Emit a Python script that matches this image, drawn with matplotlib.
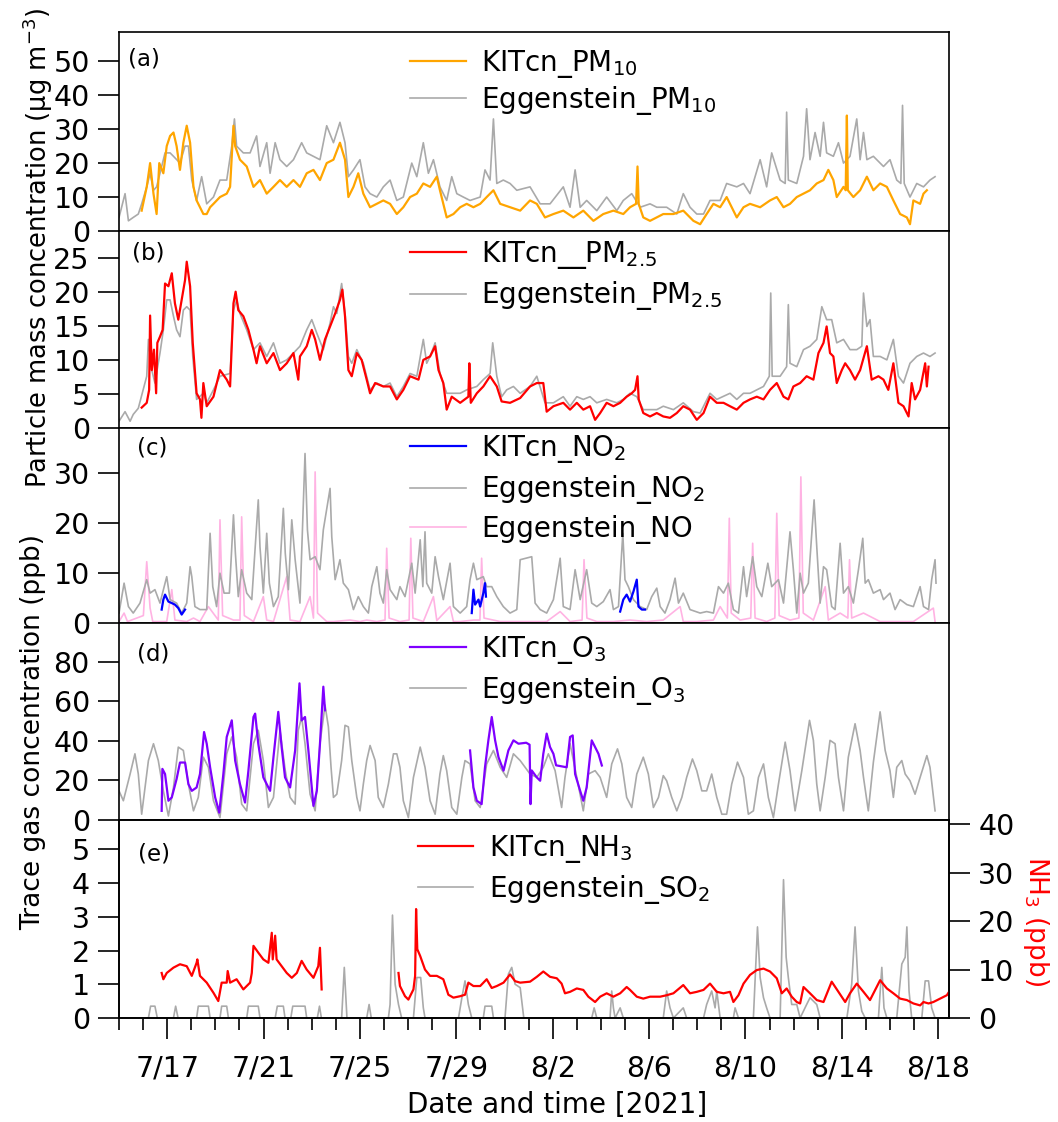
import numpy as np
import pandas as pd
import matplotlib
matplotlib.use("Agg")
import matplotlib.pyplot as plt
import matplotlib.dates as mdates

plt.rcParams["font.family"] = ["DejaVu Sans"]

# all series: (days since 2021-07-15 00:00, value)
START = pd.Timestamp("2021-07-15")
END_DAYS = 34.45

major_days = pd.date_range("2021-07-17", "2021-08-18", freq="4D")
major_labels = ["7/17", "7/21", "7/25", "7/29", "8/2", "8/6", "8/10", "8/14", "8/18"]

# (a) PM10, ug m-3
pm10_kit = [
    (0.94, 6), (1.15, 13), (1.29, 20), (1.43, 11), (1.56, 5), (1.67, 20), (1.84, 17), (1.98, 25), (2.12, 28), (2.26, 29),
    (2.39, 25), (2.53, 18), (2.67, 26), (2.81, 31), (2.95, 26), (3.09, 13), (3.22, 9), (3.36, 7), (3.50, 5), (3.64, 5),
    (3.78, 7), (3.92, 8), (4.19, 10), (4.47, 11), (4.61, 13), (4.75, 31), (4.82, 25), (5.02, 21), (5.30, 19), (5.58, 13),
    (5.85, 15), (6.13, 11), (6.41, 13), (6.68, 15), (6.96, 13), (7.24, 15), (7.51, 13), (7.79, 17), (8.07, 18), (8.34, 15),
    (8.62, 20), (8.90, 21), (9.17, 26), (9.38, 21), (9.52, 10), (9.73, 13), (9.93, 17), (10.14, 11), (10.42, 7), (10.70, 8),
    (10.97, 9), (11.25, 8), (11.53, 5), (11.80, 7), (12.08, 10), (12.36, 11), (12.63, 14), (12.91, 13), (13.19, 16), (13.32, 12),
    (13.60, 4), (13.88, 5), (14.16, 7), (14.43, 8), (14.71, 7), (14.99, 8), (15.26, 10), (15.54, 12), (15.82, 8), (16.23, 7),
    (16.65, 6), (17.06, 9), (17.34, 8), (17.68, 4), (18.03, 5), (18.44, 6), (18.86, 4), (19.27, 6), (19.69, 3), (20.10, 5),
    (20.52, 6), (20.93, 5), (21.21, 7), (21.46, 8), (21.52, 19), (21.57, 8), (21.76, 4), (22.04, 3), (22.32, 4), (22.59, 5),
    (23.01, 5), (23.42, 6), (23.84, 3), (24.12, 2), (24.39, 5), (24.67, 8), (24.95, 7), (25.22, 10), (25.64, 4), (25.92, 7),
    (26.19, 8), (26.61, 7), (27.02, 9), (27.30, 10), (27.58, 7), (27.85, 8), (28.13, 10), (28.41, 11), (28.68, 12), (28.96, 14),
    (29.24, 15), (29.44, 18), (29.65, 15), (29.79, 10), (30.07, 13), (30.16, 12), (30.21, 34), (30.25, 12), (30.48, 10), (30.76, 12),
    (31.04, 16), (31.31, 12), (31.59, 14), (31.87, 13), (32.14, 9), (32.42, 5), (32.70, 4), (32.83, 2), (32.97, 9), (33.25, 8),
    (33.39, 11), (33.53, 12)]
pm10_egg = [
    (0.00, 4), (0.25, 11), (0.39, 3), (0.59, 4), (0.80, 5), (0.94, 8), (1.15, 13), (1.29, 17), (1.43, 12), (1.56, 13),
    (1.70, 17), (1.91, 23), (2.12, 23), (2.26, 22), (2.53, 20), (2.74, 25), (2.88, 25), (3.02, 15), (3.22, 9), (3.43, 16),
    (3.64, 8), (3.92, 10), (4.19, 15), (4.47, 15), (4.68, 25), (4.79, 33), (4.88, 25), (5.16, 23), (5.44, 23), (5.71, 28),
    (5.85, 19), (6.13, 26), (6.27, 17), (6.48, 26), (6.68, 21), (6.96, 19), (7.24, 21), (7.58, 26), (7.79, 23), (8.07, 22),
    (8.34, 21), (8.62, 31), (8.90, 26), (9.17, 32), (9.38, 26), (9.52, 16), (9.73, 18), (10.00, 21), (10.21, 13), (10.42, 11),
    (10.70, 10), (10.97, 13), (11.25, 15), (11.53, 9), (11.80, 10), (12.15, 20), (12.36, 16), (12.63, 26), (12.84, 17), (13.05, 21),
    (13.32, 13), (13.60, 9), (13.81, 16), (14.02, 11), (14.29, 10), (14.57, 9), (14.99, 10), (15.19, 18), (15.40, 15), (15.54, 33),
    (15.68, 14), (15.95, 15), (16.23, 14), (16.51, 12), (17.06, 13), (17.48, 8), (17.89, 8), (18.44, 13), (18.72, 7), (18.93, 18),
    (19.14, 7), (19.41, 9), (19.83, 6), (20.24, 10), (20.66, 6), (20.93, 9), (21.28, 11), (21.63, 7), (22.04, 8), (22.32, 7),
    (22.73, 7), (23.15, 5), (23.42, 11), (23.70, 7), (23.98, 5), (24.26, 5), (24.53, 9), (24.95, 9), (25.22, 14), (25.64, 13),
    (25.92, 14), (26.19, 11), (26.61, 21), (26.88, 13), (27.09, 23), (27.44, 15), (27.65, 14), (27.71, 35), (27.78, 15), (28.13, 14),
    (28.41, 22), (28.54, 36), (28.68, 21), (28.89, 29), (29.10, 22), (29.24, 32), (29.37, 23), (29.65, 22), (29.86, 26), (30.07, 20),
    (30.34, 22), (30.62, 33), (30.76, 21), (30.90, 29), (31.04, 21), (31.31, 22), (31.73, 19), (32.00, 21), (32.28, 15), (32.45, 14),
    (32.52, 37), (32.59, 14), (32.83, 10), (33.11, 14), (33.39, 13), (33.66, 15), (33.87, 16)]

# (b) PM2.5, ug m-3
pm25_kit = [
    (0.94, 3), (1.15, 3.7), (1.25, 5.6), (1.29, 16.5), (1.36, 8.5), (1.45, 11.5), (1.54, 5.1), (1.59, 12.5), (1.70, 13.4), (1.81, 14.4),
    (1.91, 21.2), (2.05, 20.8), (2.19, 22.7), (2.32, 18.3), (2.46, 15.9), (2.60, 18.8), (2.74, 21.7), (2.81, 24.4), (2.95, 20.8), (3.06, 12.5),
    (3.22, 5.1), (3.36, 4.2), (3.42, 1.5), (3.50, 6.6), (3.64, 3.2), (3.92, 4.6), (4.19, 8.5), (4.47, 7.1), (4.61, 6.1), (4.75, 18.3),
    (4.84, 20.0), (4.95, 17.3), (5.16, 16.4), (5.37, 14.4), (5.58, 11.5), (5.71, 9.5), (5.85, 12), (6.13, 9.5), (6.41, 11), (6.68, 8.5),
    (6.96, 9.5), (7.24, 11), (7.44, 7.1), (7.51, 10.5), (7.79, 12), (8.00, 14.4), (8.14, 13), (8.34, 10), (8.55, 13), (8.76, 14.9),
    (8.97, 16.8), (9.17, 18.8), (9.27, 20.3), (9.38, 16.4), (9.52, 8.5), (9.66, 7.6), (9.87, 11), (10.07, 10), (10.28, 7.1), (10.42, 5.1),
    (10.63, 6.6), (10.97, 6.1), (11.25, 6.1), (11.53, 4.2), (11.80, 5.6), (12.08, 7.6), (12.43, 7.1), (12.63, 10), (12.91, 10.5), (13.12, 12),
    (13.26, 8.5), (13.46, 6.6), (13.60, 2.7), (13.81, 4.6), (14.16, 3.7), (14.50, 4.6), (14.54, 9.5), (14.60, 3.7), (14.85, 5.1), (15.12, 6.1),
    (15.40, 7.6), (15.68, 6.1), (15.88, 3.9), (16.23, 3.7), (16.65, 4.4), (17.06, 6.1), (17.34, 6.6), (17.61, 6.6), (17.75, 2.4), (18.03, 3.2),
    (18.44, 3.7), (18.72, 2.7), (19.00, 3.7), (19.27, 2.7), (19.55, 3.2), (19.76, 1.2), (19.97, 2.2), (20.24, 3.7), (20.52, 3.2), (20.80, 3.7),
    (21.07, 4.6), (21.28, 5.1), (21.42, 5.6), (21.52, 7.6), (21.57, 4.2), (21.76, 2.2), (22.04, 1.7), (22.32, 2.2), (22.59, 1.7), (22.87, 1.5),
    (23.15, 2.2), (23.42, 3.2), (23.70, 2.7), (23.98, 1.2), (24.26, 2.2), (24.53, 4.6), (24.81, 3.7), (25.09, 3.7), (25.36, 3.2), (25.64, 2.7),
    (25.92, 3.7), (26.19, 4.2), (26.47, 4.6), (26.75, 4.2), (27.02, 5.6), (27.30, 6.6), (27.58, 4.6), (27.78, 4.2), (27.99, 6.1), (28.27, 6.6),
    (28.54, 7.6), (28.82, 7.1), (29.03, 11), (29.24, 12.5), (29.37, 14.9), (29.51, 11), (29.65, 10.5), (29.79, 6.6), (30.00, 8.5), (30.14, 9.5),
    (30.34, 8.5), (30.55, 7.1), (30.76, 8.5), (31.04, 12), (31.24, 7.1), (31.52, 7.6), (31.73, 7.1), (31.93, 5.6), (32.14, 9.5), (32.35, 3.7),
    (32.56, 3.2), (32.77, 1.7), (32.90, 6.6), (33.04, 4.2), (33.25, 5.6), (33.46, 9.5), (33.53, 6.1), (33.60, 9)]
pm25_egg = [
    (0.00, 1.0), (0.25, 2.4), (0.46, 1.0), (0.59, 2.0), (0.80, 2.9), (1.15, 7.6), (1.22, 13), (1.36, 8.5), (1.49, 6.6), (1.70, 11),
    (1.84, 14.4), (1.98, 18.8), (2.12, 18.8), (2.26, 16.4), (2.39, 14.4), (2.53, 13.4), (2.67, 17.3), (2.81, 17.8), (2.95, 17.3), (3.06, 10.5),
    (3.22, 4.2), (3.50, 5.1), (3.64, 3.7), (3.92, 5.6), (4.19, 7.6), (4.61, 8), (4.75, 17.3), (4.88, 18.8), (5.02, 16.8), (5.30, 14.4),
    (5.58, 11.5), (5.85, 12.5), (6.13, 10.5), (6.41, 12.5), (6.68, 9.5), (6.96, 10), (7.24, 11), (7.51, 12), (7.79, 14.4), (8.00, 15.9),
    (8.21, 13.9), (8.48, 11.5), (8.76, 15.4), (8.90, 17.8), (9.04, 16.8), (9.24, 21.2), (9.38, 16.8), (9.52, 10.5), (9.66, 9.5), (9.87, 11.5),
    (10.14, 9.5), (10.42, 5.6), (10.70, 6.6), (10.97, 6.1), (11.25, 6.6), (11.53, 4.6), (11.80, 6.1), (12.08, 8), (12.36, 7.6), (12.63, 13),
    (12.77, 9.5), (12.91, 10.5), (13.12, 12.5), (13.32, 8), (13.60, 5.1), (13.88, 5.1), (14.16, 5.1), (14.43, 5.6), (14.85, 6.1), (15.12, 7.1),
    (15.40, 8), (15.51, 12.5), (15.68, 7.6), (15.88, 4.6), (16.09, 5.6), (16.37, 6.1), (16.65, 5.1), (17.06, 6.1), (17.34, 7.6), (17.68, 3.7),
    (18.03, 3.7), (18.44, 4.6), (18.72, 3.2), (19.00, 4.6), (19.27, 4.2), (19.55, 4.6), (19.83, 3.7), (20.24, 4.2), (20.66, 3.7), (20.93, 4.2),
    (21.21, 5.1), (21.49, 4.6), (21.76, 2.7), (22.04, 2.7), (22.32, 2.7), (22.59, 3.2), (23.01, 2.7), (23.42, 3.7), (23.84, 2.4), (24.12, 2.2),
    (24.53, 5.1), (24.81, 4.2), (25.36, 5.1), (25.64, 4.2), (25.92, 5.1), (26.19, 5.1), (26.47, 5.6), (26.75, 6.1), (26.99, 7.6), (27.05, 19.8),
    (27.11, 7.6), (27.44, 7.6), (27.71, 9), (27.78, 18.1), (27.85, 9.5), (28.13, 9), (28.41, 11.5), (28.68, 12), (28.96, 13), (29.17, 17.8),
    (29.37, 15.9), (29.58, 15.9), (29.79, 12.5), (30.07, 13), (30.34, 11.5), (30.62, 11.5), (30.83, 12), (30.90, 19.8), (31.04, 14.9), (31.17, 15.9),
    (31.31, 10.5), (31.59, 10.5), (31.87, 10), (32.14, 13), (32.35, 7.6), (32.56, 6.6), (32.83, 9.5), (33.11, 10.5), (33.39, 11), (33.66, 10.5),
    (33.87, 11)]

# (c) NO2 / NO, ppb
no2_kit = [
    (1.77, 2.7), (1.84, 4.7), (1.91, 5.7), (2.05, 4.3), (2.19, 4), (2.32, 3.7), (2.46, 3), (2.60, 1.7), (2.74, 2.7), (8.0, np.nan),
    (14.64, 2), (14.71, 6.7), (14.78, 3.7), (14.92, 4.7), (14.99, 3.3), (15.12, 6), (15.19, 8), (15.23, 5.3), (18.0, np.nan),
    (20.80, 2.3), (20.93, 4.7), (21.07, 5.7), (21.21, 4.3), (21.35, 6.3), (21.49, 8.7), (21.56, 3.3), (21.70, 2.7), (21.83, 2.7)]
no2_egg = [
    (0.00, 2), (0.21, 8), (0.39, 3.3), (0.59, 2), (0.87, 4), (1.15, 8.7), (1.29, 6), (1.49, 6.7), (1.70, 4), (1.98, 9.3),
    (2.12, 4.7), (2.39, 4), (2.60, 2), (2.81, 4), (2.95, 11.3), (3.02, 9.3), (3.15, 3.3), (3.36, 2.7), (3.64, 2.7), (3.78, 18),
    (3.89, 7.3), (4.05, 3.3), (4.19, 10), (4.36, 6), (4.58, 6), (4.75, 21.7), (4.83, 14), (4.95, 5.3), (5.09, 10.7), (5.30, 6),
    (5.51, 4.7), (5.78, 24.7), (5.85, 15.3), (5.99, 6), (6.13, 18), (6.24, 8), (6.41, 3.3), (6.61, 5.3), (6.82, 23), (6.90, 14),
    (7.03, 6.7), (7.17, 20.7), (7.31, 12.7), (7.51, 4), (7.72, 34), (7.82, 18.7), (7.93, 12.7), (8.14, 13.3), (8.34, 10.7), (8.48, 18.7),
    (8.76, 27), (8.83, 17.3), (8.97, 8.7), (9.17, 12.7), (9.31, 8), (9.52, 6.7), (9.73, 2.7), (9.93, 5.3), (10.14, 3.3), (10.35, 2),
    (10.49, 7.3), (10.70, 11.3), (10.83, 6), (10.97, 4), (11.11, 10.7), (11.25, 6.7), (11.53, 4.7), (11.66, 7.3), (11.87, 5.3), (12.01, 8.7),
    (12.15, 12), (12.29, 6), (12.50, 16.7), (12.61, 7.3), (12.70, 18.3), (12.77, 8), (12.98, 6), (13.12, 13.3), (13.26, 9.3), (13.46, 4.7),
    (13.74, 12), (13.88, 3.3), (14.16, 2), (14.43, 3.3), (14.57, 8.7), (14.71, 12), (14.85, 8.7), (15.12, 9.3), (15.26, 7.3), (15.47, 7.3),
    (15.68, 5.3), (15.95, 3.3), (16.23, 2), (16.51, 2.7), (16.65, 12.7), (17.13, 13.3), (17.27, 4), (17.48, 2.7), (17.75, 2), (18.03, 4.7),
    (18.31, 13), (18.44, 3.3), (18.72, 2.7), (18.93, 10.7), (19.14, 4.7), (19.41, 10.7), (19.62, 4), (19.83, 3.3), (20.10, 4.3), (20.38, 6.7),
    (20.52, 2.7), (20.73, 3.3), (20.91, 18), (21.00, 8.7), (21.14, 7.3), (21.35, 4.7), (21.63, 3.3), (21.90, 2.7), (22.11, 5.3), (22.32, 7),
    (22.46, 3.3), (22.66, 2), (22.87, 4.7), (23.08, 9), (23.22, 4), (23.42, 6), (23.70, 2.7), (24.12, 2), (24.39, 2.3), (24.67, 2),
    (24.88, 7.3), (25.09, 6), (25.29, 8), (25.50, 2.7), (25.71, 2), (25.92, 11.3), (26.05, 5.3), (26.30, 13.3), (26.47, 7.3), (26.68, 5.3),
    (26.93, 12), (27.09, 7.3), (27.37, 8.7), (27.58, 4), (27.85, 18.3), (27.99, 10.7), (28.13, 2), (28.27, 10), (28.41, 6), (28.61, 8),
    (28.85, 24.7), (28.96, 15.3), (29.10, 4), (29.24, 11.3), (29.37, 10.7), (29.58, 3.3), (29.72, 2.7), (29.93, 16), (30.07, 6), (30.27, 7.3),
    (30.48, 4), (30.69, 10.7), (30.87, 17), (30.97, 8), (31.10, 8.7), (31.31, 6), (31.59, 6.7), (31.73, 4.7), (32.00, 6), (32.21, 2.7),
    (32.42, 4.7), (32.70, 3.7), (32.97, 3.3), (33.25, 7.3), (33.39, 3.3), (33.60, 2.7), (33.73, 8.7), (33.87, 12.7), (33.91, 8)]
no_egg = [
    (0.00, 0.3), (0.21, 2), (0.35, 0.3), (1.01, 1.5), (1.15, 12.3), (1.29, 3), (1.40, 0.3), (1.98, 0.3), (2.19, 6.7), (2.32, 0.6),
    (2.81, 0.3), (3.09, 1.0), (3.36, 0.3), (3.71, 3.3), (4.12, 0.6), (4.19, 20.7), (4.30, 1.5), (4.75, 0.6), (5.02, 0.6), (5.09, 21.3),
    (5.20, 1.5), (5.58, 0.3), (5.99, 5.3), (6.13, 0.6), (6.41, 0.3), (6.96, 9.3), (7.10, 0.6), (7.51, 0.3), (7.93, 5.3), (8.07, 1.0),
    (8.14, 30.3), (8.24, 2), (8.62, 0.3), (8.90, 0.3), (9.59, 0.6), (10.00, 0.3), (10.28, 0.6), (10.70, 0.3), (11.04, 0.6), (11.11, 15),
    (11.21, 1.0), (11.66, 0.3), (12.04, 0.6), (12.11, 17), (12.20, 1.0), (12.63, 0.3), (13.05, 5.3), (13.19, 0.5), (13.74, 3.3), (13.88, 0.3),
    (14.16, 0.3), (14.71, 0.6), (14.98, 0.6), (15.05, 13), (15.15, 1.0), (15.82, 0.3), (16.37, 0.3), (17.06, 0.3), (17.75, 0.3), (18.31, 2.3),
    (18.72, 0.3), (19.22, 0.6), (19.30, 12.7), (19.42, 1.0), (19.83, 0.3), (20.52, 0.3), (21.21, 0.6), (21.90, 0.3), (22.59, 0.6), (23.29, 3.3),
    (23.42, 0.3), (23.98, 0.3), (24.67, 0.6), (24.95, 3.3), (25.25, 1.0), (25.33, 21), (25.41, 2), (25.78, 0.6), (26.22, 1.0), (26.30, 16),
    (26.40, 1.0), (26.88, 0.3), (27.22, 1.0), (27.30, 22), (27.40, 1.5), (27.85, 0.6), (28.22, 1.0), (28.30, 29.3), (28.40, 2), (28.82, 0.6),
    (29.31, 7.3), (29.44, 0.6), (29.93, 2), (30.25, 1.0), (30.32, 12.7), (30.41, 1.0), (30.90, 2), (31.59, 0.3), (32.28, 0.3), (32.97, 0.3),
    (33.80, 3), (33.87, 0.3)]

# (d) O3, ppb
o3_kit = [
    (1.77, 4.6), (1.80, 25.8), (1.91, 23.2), (2.05, 9.7), (2.19, 11.4), (2.39, 20.7), (2.53, 29), (2.74, 29), (2.88, 18.1), (3.02, 14.7),
    (3.22, 16.4), (3.36, 23.2), (3.53, 44.4), (3.64, 38.5), (3.78, 26.6), (3.99, 11.4), (4.16, 3.7), (4.33, 23.2), (4.47, 41.9), (4.68, 50.3),
    (4.82, 30), (5.02, 18.1), (5.23, 8.8), (5.37, 24.9), (5.58, 52), (5.65, 53.7), (5.78, 38.5), (5.99, 21.5), (6.13, 18.1), (6.27, 14.7),
    (6.41, 31.7), (6.61, 54.6), (6.75, 36.8), (6.89, 21.5), (7.10, 16.4), (7.31, 35.1), (7.49, 69), (7.58, 50.3), (7.72, 52), (7.86, 35.1),
    (8.07, 7.1), (8.21, 14.7), (8.34, 38.5), (8.48, 67.3), (8.55, 55.4), (11.0, np.nan),
    (14.57, 35.1), (14.71, 16.4), (14.85, 9.7), (15.05, 8), (15.19, 26.6), (15.33, 40.2), (15.47, 52), (15.61, 40.2), (15.75, 31.7), (15.96, 24.9),
    (16.16, 35.1), (16.37, 40.2), (16.58, 38.5), (16.90, 39), (17.04, 38), (17.08, 8), (17.13, 25), (17.34, 21.5), (17.48, 19.8), (17.61, 33.4),
    (17.75, 43.6), (17.89, 36.8), (18.03, 33.4), (18.14, 27.6), (18.58, 26.6), (18.72, 41.9), (18.83, 42.7), (18.93, 23.2), (19.14, 14.7), (19.27, 9.7),
    (19.41, 16.4), (19.62, 40.2), (19.76, 36.8), (19.90, 33.4), (20.04, 27.5)]
o3_egg = [
    (0.00, 14.7), (0.18, 9.7), (0.46, 23.2), (0.66, 33.4), (0.80, 23.2), (0.94, 2.9), (1.01, 9.7), (1.22, 30), (1.43, 38.5), (1.63, 30),
    (1.84, 14.7), (2.05, 2), (2.26, 16.4), (2.46, 36.8), (2.67, 35.1), (2.88, 18.1), (3.09, 4.6), (3.29, 11.4), (3.50, 31.7), (3.71, 26.6),
    (3.92, 9.7), (4.19, 1.2), (4.47, 33.4), (4.68, 41.9), (4.88, 31.7), (5.09, 8), (5.30, 4.6), (5.58, 38.5), (5.78, 45.3), (5.99, 30),
    (6.20, 6.3), (6.41, 11.4), (6.68, 45.3), (6.90, 25), (7.10, 11.4), (7.31, 8), (7.44, 45.3), (7.58, 52), (7.72, 38.5), (7.93, 13),
    (8.14, 4.6), (8.34, 38.5), (8.55, 58), (8.69, 47), (8.80, 26.6), (8.90, 11.4), (9.04, 13), (9.24, 30), (9.38, 47.8), (9.52, 47),
    (9.66, 30), (9.87, 11.4), (10.00, 4.6), (10.14, 18.1), (10.28, 30), (10.42, 37.6), (10.63, 30), (10.76, 11.4), (10.97, 6.3), (11.18, 18.1),
    (11.39, 33.4), (11.53, 33.4), (11.66, 26.6), (11.80, 9.7), (12.01, 1.2), (12.22, 21.5), (12.50, 36.8), (12.70, 26.6), (12.91, 9.7), (13.12, 2.9),
    (13.32, 23.2), (13.46, 32.5), (13.60, 24.9), (13.81, 6.3), (14.02, 2.9), (14.23, 21.5), (14.36, 30), (14.57, 28.3), (14.78, 9.7), (14.99, 6.3),
    (15.26, 28.3), (15.54, 35.1), (15.82, 26.6), (16.09, 21.5), (16.37, 33.4), (16.65, 30), (17.06, 23.2), (17.34, 21.5), (17.61, 26.6), (17.82, 33.4),
    (18.10, 24.9), (18.37, 6.3), (18.51, 21.5), (18.72, 38.5), (19.00, 21.5), (19.27, 4.6), (19.48, 23.2), (19.76, 24.9), (19.97, 21.5), (20.24, 11.4),
    (20.45, 28.3), (20.69, 35.9), (20.87, 28.3), (21.07, 11.4), (21.28, 6.3), (21.49, 23.2), (21.76, 31.7), (21.97, 23.2), (22.18, 6.3), (22.39, 11.4),
    (22.59, 22.4), (22.73, 19.8), (22.94, 11.4), (23.15, 4.6), (23.36, 11.4), (23.56, 21.5), (23.80, 30.8), (23.98, 24.9), (24.19, 14.7), (24.39, 14.7),
    (24.60, 23.2), (24.81, 11.4), (25.02, 2.9), (25.22, 2.9), (25.43, 18.1), (25.67, 29.2), (25.92, 21.5), (26.12, 2.9), (26.33, 4.6), (26.54, 21.5),
    (26.75, 28.3), (26.95, 11.4), (27.16, 1.2), (27.37, 18.1), (27.65, 39.3), (27.85, 24.9), (28.06, 4.6), (28.34, 24.9), (28.66, 50.3), (28.82, 40.2),
    (28.96, 18.1), (29.10, 4.6), (29.31, 21.5), (29.51, 40.2), (29.72, 38.5), (29.86, 21.5), (30.07, 4.6), (30.27, 31.7), (30.55, 48.6), (30.76, 35.1),
    (30.90, 21.5), (31.10, 4.6), (31.31, 29.2), (31.59, 54.6), (31.80, 35.1), (32.00, 24.9), (32.14, 11.4), (32.28, 26.6), (32.49, 30), (32.63, 23.2),
    (32.83, 19.8), (33.04, 13), (33.25, 21.5), (33.53, 32.5), (33.66, 26.6), (33.87, 4.6)]

# (e) NH3 (right axis, ppb) and SO2 (left axis, ppb)
nh3_kit = [
    (1.77, 9.3), (1.84, 8), (1.98, 9.3), (2.26, 10.4), (2.53, 11.1), (2.81, 10.7), (3.02, 8.7), (3.22, 11.4), (3.25, 12.1), (3.36, 8.7),
    (3.64, 7.3), (3.92, 5.2), (4.12, 3.5), (4.26, 7.3), (4.47, 7.3), (4.51, 9.7), (4.61, 7.3), (4.88, 8), (5.16, 5.9), (5.44, 7.3),
    (5.51, 9.3), (5.58, 14.9), (5.78, 13.5), (5.99, 12.1), (6.20, 11.4), (6.34, 17.6), (6.38, 12.1), (6.48, 17), (6.54, 12.1), (6.75, 10.7),
    (6.96, 9.3), (7.17, 8.3), (7.38, 9.3), (7.58, 11.8), (7.79, 10), (8.07, 8.3), (8.27, 10.7), (8.34, 14.5), (8.41, 5.9), (10.0, np.nan),
    (11.60, 9.3), (11.66, 6.6), (11.87, 4.5), (12.01, 3.8), (12.15, 5.2), (12.22, 5.9), (12.29, 8.7), (12.33, 22.5), (12.38, 14.2), (12.50, 12.8),
    (12.70, 10), (12.91, 8.7), (13.19, 8.7), (13.46, 8), (13.67, 4.8), (13.88, 4.2), (14.16, 4.5), (14.36, 4.8), (14.50, 7.3), (14.71, 6.6),
    (14.99, 6.6), (15.26, 8), (15.47, 6.2), (15.68, 6.6), (15.96, 7.3), (16.23, 9), (16.44, 7.6), (16.65, 7.3), (17.06, 7.5), (17.34, 8.5),
    (17.61, 9.6), (17.89, 8.5), (18.17, 8.2), (18.37, 7.1), (18.51, 5.1), (18.72, 5.4), (19.00, 6.1), (19.27, 5.8), (19.48, 4.4), (19.76, 3.3),
    (19.97, 4.4), (20.24, 5.1), (20.52, 4.4), (20.80, 5.1), (21.07, 6.4), (21.21, 5.8), (21.49, 4.4), (21.76, 4.0), (22.04, 4.4), (22.46, 4.4),
    (22.73, 4.7), (23.01, 5.1), (23.42, 6.8), (23.70, 5.1), (23.98, 5.4), (24.26, 5.8), (24.53, 7.1), (24.81, 5.4), (25.09, 5.1), (25.36, 5.4),
    (25.50, 3.3), (25.71, 4.7), (25.92, 7.1), (26.19, 8.9), (26.47, 9.9), (26.75, 10.2), (27.02, 9.6), (27.30, 8.2), (27.51, 5.1), (27.71, 6.1),
    (27.92, 4.4), (28.13, 3.3), (28.27, 3.0), (28.41, 6.4), (28.68, 5.1), (28.96, 3.7), (29.24, 3.3), (29.58, 7.5), (29.86, 5.4), (30.14, 3.3),
    (30.34, 5.1), (30.62, 7.1), (30.90, 5.4), (31.17, 3.7), (31.59, 7.8), (31.87, 6.1), (32.14, 5.1), (32.42, 4.0), (32.70, 3.7), (32.97, 3.0),
    (33.25, 2.6), (33.39, 3.3), (33.60, 3.0), (33.80, 3.3), (34.08, 4.0), (34.36, 4.7), (34.45, 5.4)]
so2_egg = [
    (0.00, 0), (1.22, 0), (1.31, 0.35), (1.49, 0.35), (1.59, 0), (2.26, 0), (2.35, 0.35), (2.45, 0), (3.22, 0), (3.29, 0.35),
    (3.71, 0.35), (3.78, 0), (4.19, 0), (4.26, 0.35), (4.47, 0.35), (4.54, 0), (5.30, 0), (5.37, 0.35), (5.78, 0.35), (5.85, 0),
    (6.48, 0), (6.57, 0.35), (6.82, 0.35), (6.89, 0), (7.13, 0), (7.21, 0.35), (7.72, 0.35), (7.79, 0), (8.23, 0), (8.32, 0.35),
    (8.40, 0), (9.24, 0), (9.35, 1.5), (9.46, 0), (10.28, 0), (10.38, 0.4), (10.47, 0), (11.18, 0), (11.25, 0.4), (11.35, 3.05),
    (11.46, 1.0), (11.60, 0.4), (11.73, 0), (12.22, 0), (12.36, 1.2), (12.52, 1.2), (12.63, 0.3), (12.70, 0), (14.09, 0), (14.23, 0.6),
    (14.36, 1.1), (14.50, 0.4), (14.64, 0), (15.12, 0), (15.19, 0.35), (15.47, 0.35), (15.54, 0), (16.02, 0), (16.16, 1.3), (16.30, 1.5),
    (16.44, 1.0), (16.65, 0.9), (16.80, 0), (19.62, 0), (19.72, 0.3), (19.83, 0), (20.38, 0), (20.45, 0.8), (20.52, 0.3),
    (20.59, 0), (20.80, 0.3), (20.93, 0), (22.59, 0), (22.73, 0.8), (22.87, 0.3), (23.01, 0), (23.42, 0.3), (23.56, 0), (24.26, 0),
    (24.39, 0.4), (24.60, 0.8), (24.74, 0.3), (24.81, 0.8), (24.95, 0), (25.50, 0), (25.57, 0.3), (25.71, 0), (26.33, 0), (26.50, 2.7),
    (26.61, 1.2), (26.75, 0.6), (26.88, 0.3), (27.02, 0), (27.44, 0), (27.58, 4.1), (27.69, 1.8), (27.78, 1.2), (27.92, 0.4), (28.13, 0.4),
    (28.27, 0), (28.54, 0.4), (28.68, 0.6), (28.96, 0.4), (29.10, 0), (30.21, 0), (30.41, 1.0), (30.55, 2.7), (30.69, 0.8), (30.83, 0.2),
    (30.97, 0), (31.52, 0), (31.66, 1.5), (31.75, 0.3), (31.87, 0), (32.28, 0), (32.49, 1.6), (32.63, 1.8), (32.70, 2.7), (32.79, 0.8),
    (32.90, 0), (33.32, 0), (33.46, 1.1), (33.60, 1.1), (33.73, 0.3), (33.87, 0)]

GREY = "#aaaaaa"


def xy(pairs):
    arr = np.array(pairs, dtype=float)
    return START + pd.to_timedelta(arr[:, 0], unit="D"), arr[:, 1]


fig = plt.figure(figsize=(10.58, 11.22), dpi=100)
left, width = 0.1125, 0.7845
rects = [(0.7941, 0.1774), (0.6185, 0.1756), (0.4447, 0.1738), (0.2692, 0.1756), (0.0927, 0.1765)]
axes = []
for b, h in rects:
    ax = fig.add_axes([left, b, width, h], sharex=axes[0] if axes else None)
    axes.append(ax)
ax_a, ax_b, ax_c, ax_d, ax_e = axes

TICK = dict(direction="out", length=15, width=1.2, labelsize=20.5, pad=6)
LEG = dict(frameon=False, fontsize=20, handlelength=2.0, handletextpad=0.55,
           borderpad=0, borderaxespad=0, loc="upper left")
KW_G = dict(color=GREY, lw=1.2)
KW_K = dict(lw=1.6)

# (a)
t, v = xy(pm10_egg)
ax_a.plot(t, v, label="Eggenstein_PM$_{10}$", **KW_G)
t, v = xy(pm10_kit)
ax_a.plot(t, v, color="#ffa500", label="KITcn_PM$_{10}$", **KW_K)
ax_a.set_ylim(0, 58.6)
ax_a.set_yticks([0, 10, 20, 30, 40, 50])
h, l = ax_a.get_legend_handles_labels()
ax_a.legend(h[::-1], l[::-1], bbox_to_anchor=(0.3506, 0.92), labelspacing=0.15, **LEG)

# (b)
t, v = xy(pm25_egg)
ax_b.plot(t, v, label="Eggenstein_PM$_{2.5}$", **KW_G)
t, v = xy(pm25_kit)
ax_b.plot(t, v, color="#ff0000", label="KITcn__PM$_{2.5}$", **KW_K)
ax_b.set_ylim(0, 28.9)
ax_b.set_yticks([0, 5, 10, 15, 20, 25])
h, l = ax_b.get_legend_handles_labels()
ax_b.legend(h[::-1], l[::-1], bbox_to_anchor=(0.3506, 0.96), labelspacing=0.3, **LEG)

# (c)
t, v = xy(no_egg)
l_no, = ax_c.plot(t, v, color="#ffb3e3", lw=1.2, label="Eggenstein_NO")
t, v = xy(no2_egg)
l_no2e, = ax_c.plot(t, v, label="Eggenstein_NO$_2$", **KW_G)
t, v = xy(no2_kit)
l_no2k, = ax_c.plot(t, v, color="#0000ff", label="KITcn_NO$_2$", **KW_K)
ax_c.set_ylim(0, 39.1)
ax_c.set_yticks([0, 10, 20, 30])
ax_c.legend([l_no2k, l_no2e, l_no], [x.get_label() for x in (l_no2k, l_no2e, l_no)],
            bbox_to_anchor=(0.3506, 0.975), labelspacing=0.3, **LEG)

# (d)
t, v = xy(o3_egg)
ax_d.plot(t, v, label="Eggenstein_O$_3$", **KW_G)
t, v = xy(o3_kit)
ax_d.plot(t, v, color="#7f00ff", label="KITcn_O$_3$", **KW_K)
ax_d.set_ylim(0, 99.5)
ax_d.set_yticks([0, 20, 40, 60, 80])
h, l = ax_d.get_legend_handles_labels()
ax_d.legend(h[::-1], l[::-1], bbox_to_anchor=(0.3506, 0.945), labelspacing=0.3, **LEG)

# (e)
t, v = xy(so2_egg)
l_so2, = ax_e.plot(t, v, label="Eggenstein_SO$_2$", **KW_G)
ax_e.set_ylim(0, 5.87)
ax_e.set_yticks([0, 1, 2, 3, 4, 5])
ax_e2 = ax_e.twinx()
t, v = xy(nh3_kit)
l_nh3, = ax_e2.plot(t, v, color="#ff0000", label="KITcn_NH$_3$", **KW_K)
ax_e2.set_ylim(0, 40.9)
ax_e2.set_yticks([0, 10, 20, 30, 40])
ax_e2.tick_params(axis="y", **TICK)
ax_e2.legend([l_nh3, l_so2], [l_nh3.get_label(), l_so2.get_label()],
             bbox_to_anchor=(0.36, 0.935), labelspacing=0.3, **LEG)

for ax in axes:
    ax.tick_params(axis="y", **TICK)
    for s in ax.spines.values():
        s.set_linewidth(1.2)
    ax.tick_params(axis="x", which="both", bottom=False, labelbottom=False)
for s in ax_e2.spines.values():
    s.set_linewidth(1.2)

ax_e.set_xlim(START, START + pd.Timedelta(days=END_DAYS))
ax_e.set_xticks(major_days)
ax_e.set_xticklabels(major_labels)
ax_e.xaxis.set_minor_locator(mdates.DayLocator())
ax_e.tick_params(axis="x", which="major", bottom=True, labelbottom=True, direction="out",
                 length=15, width=1.2, labelsize=20.5, pad=11)
ax_e.tick_params(axis="x", which="minor", bottom=True, direction="out", length=8.5, width=1.2)

for ax, lab, x, y in zip(axes, ["(a)", "(b)", "(c)", "(d)", "(e)"],
                         [0.011, 0.016, 0.022, 0.022, 0.023], [0.865, 0.888, 0.90, 0.84, 0.83]):
    ax.text(x, y, lab, transform=ax.transAxes, fontsize=16.5, va="center", ha="left")

fig.text(0.036, 1 - 248 / 1122, "Particle mass concentration (µg m$^{-3}$)",
         rotation=90, ha="center", va="center", fontsize=18.5)
fig.text(0.031, 1 - 732 / 1122, "Trace gas concentration (ppb)",
         rotation=90, ha="center", va="center", fontsize=19)
fig.text(1036 / 1058, 1 - 921 / 1122, "NH$_3$ (ppb)", rotation=270, color="#ff0000",
         ha="center", va="center", fontsize=19)
fig.text(557 / 1058, 1 - 1105 / 1122, "Date and time [2021]", ha="center", va="center", fontsize=20)

fig.savefig("out.png", dpi=100)
